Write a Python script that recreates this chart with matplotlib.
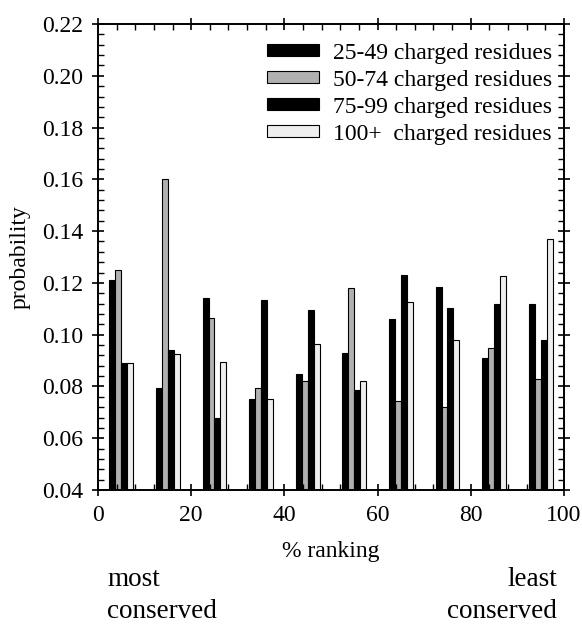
import numpy as np
import matplotlib
matplotlib.use("Agg")
import matplotlib.pyplot as plt
from matplotlib.ticker import MultipleLocator

# data
centers = [5, 15, 25, 35, 45, 55, 65, 75, 85, 95]
labels = ["25-49 charged residues", "50-74 charged residues",
          "75-99 charged residues", "100+  charged residues"]
s25_49 = [0.121, 0.0795, 0.114, 0.075, 0.085, 0.093, 0.106, 0.1185, 0.091, 0.112]
s50_74 = [0.125, 0.160, 0.1065, 0.0795, 0.082, 0.118, 0.0745, 0.072, 0.095, 0.083]
s75_99 = [0.089, 0.094, 0.068, 0.1135, 0.1095, 0.0785, 0.123, 0.1105, 0.112, 0.098]
s100p = [0.089, 0.0925, 0.0895, 0.075, 0.0965, 0.082, 0.1125, 0.098, 0.1225, 0.137]
series = [s25_49, s50_74, s75_99, s100p]
colors = ["#000000", "#b0b0b0", "#000000", "#eeeeee"]

plt.rcParams['font.family'] = ['Liberation Serif', 'DejaVu Serif']

fig = plt.figure(figsize=(5.82, 6.24), dpi=100)
ax = fig.add_axes([0.1684, 0.2147, 0.8006, 0.7468])

w = 1.28
x = np.array(centers, dtype=float)
for i, (vals, c) in enumerate(zip(series, colors)):
    ax.bar(x + (i - 1.5) * w, np.array(vals) - 0.04, bottom=0.04, width=w,
           color=c, edgecolor="black", linewidth=0.8, label=labels[i])

ax.set_xlim(0, 100)
ax.set_ylim(0.04, 0.22)
ax.xaxis.set_major_locator(MultipleLocator(20))
ax.xaxis.set_minor_locator(MultipleLocator(4))
ax.yaxis.set_major_locator(MultipleLocator(0.02))
ax.yaxis.set_minor_locator(MultipleLocator(0.004))
ax.yaxis.set_major_formatter(matplotlib.ticker.FormatStrFormatter('%.2f'))
ax.tick_params(which='major', direction='inout', length=9, width=1.2,
               top=True, right=True, labelsize=17, pad=6)
ax.tick_params(which='minor', direction='in', length=4, width=1,
               top=True, right=True)
for s in ax.spines.values():
    s.set_linewidth(1.4)

ax.set_xlabel("% ranking", fontsize=17, labelpad=11)
ax.set_ylabel("probability", fontsize=17, labelpad=8)

leg = ax.legend(loc='upper right', bbox_to_anchor=(1.0, 0.985), frameon=False,
                fontsize=17, handlelength=2.2, handleheight=0.4,
                labelspacing=0.25, borderpad=0, handletextpad=0.6)

fig.text(107 / 582, 1 - 580 / 624, "most", fontsize=19.5, ha='left', va='center')
fig.text(107 / 582, 1 - 612 / 624, "conserved", fontsize=19.5, ha='left', va='center')
fig.text(557 / 582, 1 - 580 / 624, "least", fontsize=19.5, ha='right', va='center')
fig.text(557 / 582, 1 - 612 / 624, "conserved", fontsize=19.5, ha='right', va='center')

fig.savefig("out.png", dpi=100)
